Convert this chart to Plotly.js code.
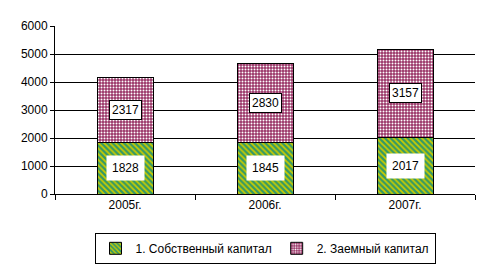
<!DOCTYPE html>
<html><head><meta charset="utf-8">
<script src="https://cdn.plot.ly/plotly-3.0.1.min.js"></script>
<style>html,body{margin:0;padding:0;background:#fff}#c{width:491px;height:267px}</style>
</head><body><div id="c"></div>
<script>
const categories = ['2005г.', '2006г.', '2007г.'];
const own = [1828, 1845, 2017];
const borrowed = [2317, 2830, 3157];
const seriesNames = ['1. Собственный капитал', '2. Заемный капитал'];

const traces = [
  {type:'bar', x:categories, y:own, name:seriesNames[0],
   marker:{color:'#339966', line:{color:'#000', width:1},
     pattern:{shape:'\\', fgcolor:'#cccc00', bgcolor:'#339966', size:4, solidity:0.45}},
   hoverinfo:'none'},
  {type:'bar', x:categories, y:borrowed, name:seriesNames[1],
   marker:{color:'#993366', line:{color:'#000', width:1},
     pattern:{shape:'.', fgcolor:'#ffffff', bgcolor:'#993366', size:3, solidity:0.35}},
   hoverinfo:'none'}
];

const annotations = [];
categories.forEach((c,i)=>{
  annotations.push({x:c, y:own[i]/2, text:String(own[i]), showarrow:false,
    bgcolor:'#fff', borderpad:5, font:{family:'Arial, Liberation Sans', size:12, color:'#000'}});
  annotations.push({x:c, y:own[i]+borrowed[i]/2, text:String(borrowed[i]), showarrow:false,
    bgcolor:'#fff', bordercolor:'#000', borderwidth:1, borderpad:2,
    font:{family:'Arial, Liberation Sans', size:12, color:'#000'}});
});

const layout = {
  width:491, height:267,
  margin:{l:55, r:16, t:26, b:73},
  paper_bgcolor:'#fff', plot_bgcolor:'#fff',
  barmode:'stack', bargap:0.6,
  showlegend:true,
  font:{family:'Arial, Liberation Sans', size:12, color:'#000'},
  xaxis:{type:'category', showline:true, linecolor:'#000', linewidth:1,
    ticks:'outside', ticklen:5, tickcolor:'#000', tickson:'boundaries',
    showgrid:false, tickfont:{size:12}},
  yaxis:{range:[0,6000], dtick:1000, showline:true, linecolor:'#000', linewidth:1,
    ticks:'outside', ticklen:4, tickcolor:'#000',
    showgrid:true, gridcolor:'#000', gridwidth:1, zeroline:false, tickfont:{size:12}},
  legend:{orientation:'h', x:0.5, xanchor:'center', xref:'paper',
    y:0.128, yanchor:'top', yref:'container',
    bordercolor:'#000', borderwidth:1, font:{size:12}, itemwidth:30,
    tracegroupgap:0, traceorder:'normal'},
  annotations:annotations
};
Plotly.newPlot('c', traces, layout, {staticPlot:true});
</script></body></html>
